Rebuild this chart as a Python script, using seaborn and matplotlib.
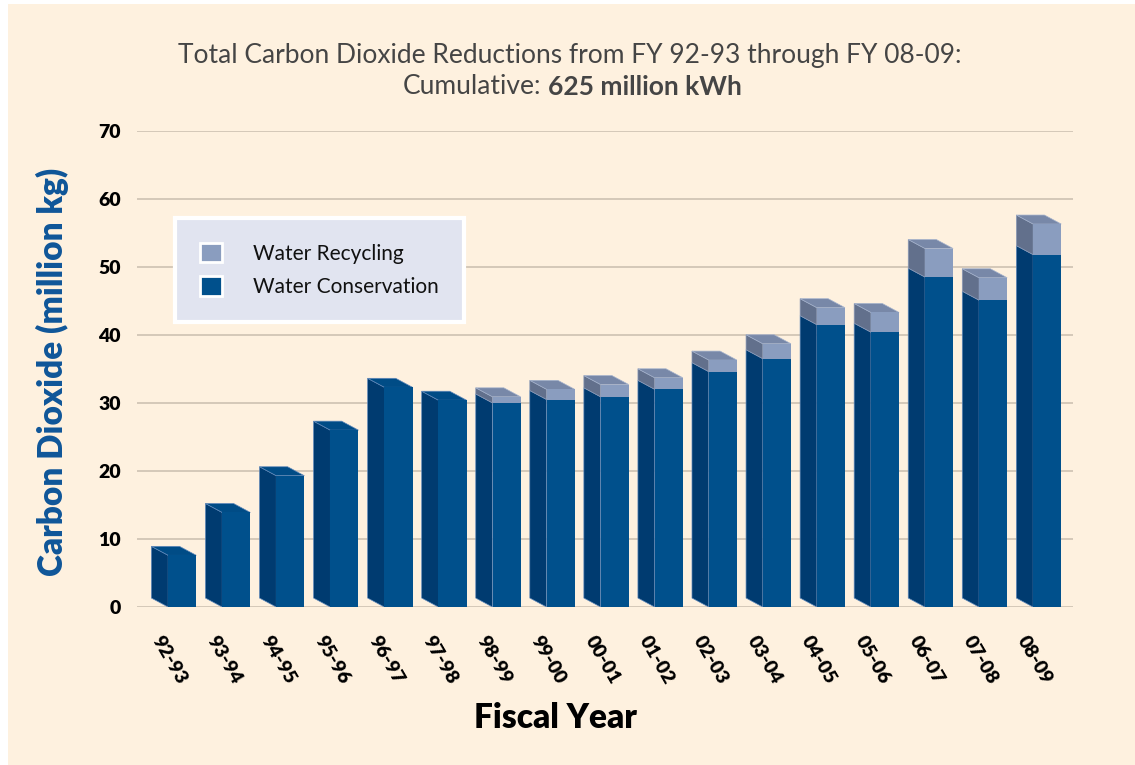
import numpy as np
import pandas as pd
import seaborn as sns
import matplotlib.pyplot as plt
import matplotlib.transforms as mtransforms
from matplotlib.patches import Polygon, Patch, Rectangle

# values (million kg CO2)
years = ['92-93', '93-94', '94-95', '95-96', '96-97', '97-98', '98-99', '99-00', '00-01',
         '01-02', '02-03', '03-04', '04-05', '05-06', '06-07', '07-08', '08-09']
conservation = [7.6, 13.9, 19.3, 26.0, 32.3, 30.4, 30.0, 30.5, 30.9,
                32.0, 34.6, 36.5, 41.5, 40.4, 48.5, 45.1, 51.8]
recycling = [0, 0, 0, 0, 0, 0, 0.9, 1.5, 1.8,
             1.7, 1.7, 2.2, 2.5, 2.9, 4.2, 3.3, 4.5]
yticks = [0, 10, 20, 30, 40, 50, 60, 70]

df = pd.DataFrame({'Fiscal Year': years,
                   'Water Conservation': conservation,
                   'Water Recycling': recycling})
df['Total'] = df['Water Conservation'] + df['Water Recycling']

bg = '#FEF1DF'
cons_front, cons_side, cons_top = '#00508C', '#003B70', '#004C86'
rec_front, rec_side, rec_top = '#8A9DBF', '#62708C', '#7888A8'
edge = '#5F88BA'

sns.set_theme(style='white')
plt.rcParams['font.family'] = ['Lato', 'DejaVu Sans']

fig, ax = plt.subplots(figsize=(11.35, 7.65), dpi=100)
fig.patch.set_facecolor('white')
fig.patches.append(Rectangle((8 / 1135, 0), 1, 1 - 4 / 765, transform=fig.transFigure,
                             facecolor=bg, edgecolor='none', zorder=-10))
ax.set_facecolor(bg)
fig.subplots_adjust(left=0.121, right=0.945, top=0.829, bottom=0.2065)

sns.barplot(data=df, x='Fiscal Year', y='Total', color=rec_front, width=0.52,
            saturation=1, errorbar=None, ax=ax, zorder=3, linewidth=0)
sns.barplot(data=df, x='Fiscal Year', y='Water Conservation', color=cons_front, width=0.52,
            saturation=1, errorbar=None, ax=ax, zorder=3, linewidth=0)

# fake 3D: side and top faces taken from the bar patches
n = len(years)
bars = list(ax.patches)
dx, dy = -0.31, 1.32
for t, c in zip(bars[:n], bars[n:2 * n]):
    x0, w = t.get_x(), t.get_width()
    ht, hc = t.get_height(), c.get_height()
    ax.add_patch(Polygon([(x0, 0), (x0 + dx, dy), (x0 + dx, hc + dy), (x0, hc)],
                         closed=True, fc=cons_side, ec=edge, lw=0.5, zorder=2))
    if ht > hc:
        ax.add_patch(Polygon([(x0, hc), (x0 + dx, hc + dy), (x0 + dx, ht + dy), (x0, ht)],
                             closed=True, fc=rec_side, ec='#8C9BB8', lw=0.5, zorder=2))
        top_c, top_e = rec_top, '#A4B2CC'
    else:
        top_c, top_e = cons_top, edge
    ax.add_patch(Polygon([(x0, ht), (x0 + dx, ht + dy), (x0 + w + dx, ht + dy), (x0 + w, ht)],
                         closed=True, fc=top_c, ec=top_e, lw=0.5, zorder=2))

ax.set_xlim(-0.83, 16.47)
ax.set_ylim(0, 70)
ax.set_yticks(yticks)
ax.set_axisbelow(True)
ax.yaxis.grid(True, color='#CDC2B2', lw=1.2)
ax.xaxis.grid(False)
sns.despine(left=True, bottom=True)

ax.tick_params(axis='y', length=0, pad=12, labelsize=14, labelcolor='black')
for lab in ax.get_yticklabels():
    lab.set_fontweight('heavy')
ax.tick_params(axis='x', length=0, pad=19)
ax.set_xticks(range(n))
ax.set_xticklabels(years, rotation=-60, ha='center', va='top',
                   fontweight='heavy', fontsize=14, color='black')
shift = mtransforms.ScaledTranslation(-9 / 72, 0, fig.dpi_scale_trans)
for lab in ax.get_xticklabels():
    lab.set_transform(lab.get_transform() + shift)

ax.set_xlabel('Fiscal Year', fontsize=24, fontweight='heavy', color='black')
ax.xaxis.set_label_coords(0.447, -0.2)
ax.set_ylabel('Carbon Dioxide (million kg)', fontsize=24, fontweight='heavy',
              color='#0F5699', va='center')
ax.yaxis.set_label_coords(-0.091, 0.494)

handles = [Patch(fc=rec_front, ec='white', lw=2, label='Water Recycling'),
           Patch(fc=cons_front, ec='white', lw=2, label='Water Conservation')]
leg = ax.legend(handles=handles, loc='upper left', bbox_to_anchor=(0.154, 0.715),
                bbox_transform=fig.transFigure, frameon=True, fancybox=False,
                facecolor='#E1E4F0', edgecolor='white', framealpha=1, fontsize=15,
                handlelength=1.05, handleheight=1.05, borderpad=1.2, labelspacing=0.6,
                handletextpad=1.5, borderaxespad=0)
leg.get_frame().set_linewidth(3)
for txt in leg.get_texts():
    txt.set_color('#111111')

fig.text(0.502, 1 - 55 / 765, 'Total Carbon Dioxide Reductions from FY 92-93 through FY 08-09:',
         ha='center', va='center', fontsize=19, color='#454545')
fig.text(541 / 1135, 1 - 87 / 765, 'Cumulative:', ha='right', va='center',
         fontsize=19, color='#454545')
fig.text(548 / 1135, 1 - 87 / 765, '625 million kWh', ha='left', va='center',
         fontsize=19, fontweight='bold', color='#454545')

fig.savefig('out.png', dpi=100)
